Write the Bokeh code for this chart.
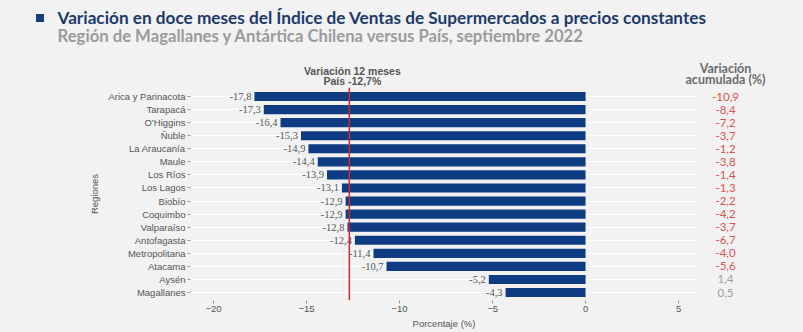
from bokeh.plotting import figure
from bokeh.layouts import column, row
from bokeh.models import ColumnDataSource, LabelSet, Span, Range1d, FixedTicker
from bokeh.core.properties import value
from bokeh.embed import file_html
from bokeh.resources import INLINE

# ---------------- data ----------------
regions = ["Arica y Parinacota", "Tarapacá", "O'Higgins", "Ñuble", "La Araucanía",
           "Maule", "Los Ríos", "Los Lagos", "Biobío", "Coquimbo", "Valparaíso",
           "Antofagasta", "Metropolitana", "Atacama", "Aysén", "Magallanes"]
var12 = [-17.8, -17.3, -16.4, -15.3, -14.9, -14.4, -13.9, -13.1, -12.9, -12.9,
         -12.8, -12.4, -11.4, -10.7, -5.2, -4.3]
acum = [-10.9, -8.4, -7.2, -3.7, -1.2, -3.8, -1.4, -1.3, -2.2, -4.2, -3.7,
        -6.7, -4.0, -5.6, 1.4, 0.5]
pais = -12.7
x_ticks = [-20, -15, -10, -5, 0, 5]

title = "Variación en doce meses del Índice de Ventas de Supermercados a precios constantes"
subtitle = "Región de Magallanes y Antártica Chilena versus País, septiembre 2022"
pais_label = ["Variación 12 meses", "País " + f"{pais:.1f}".replace(".", ",") + "%"]
acum_header = ["Variación", "acumulada (%)"]

# ---------------- layout ----------------
W, H = 803, 332
HEAD_H = 87                      # header strip height
F_L, F_R = 190, 697              # main frame left / right (canvas px)
MAIN_H = H - HEAD_H
BOTTOM = 32
X0, X1 = -21.24, 6.02
y_range = Range1d(15.61, -0.69)
BG = "#f2f2f2"

def fmt(v):
    return f"{v:.1f}".replace(".", ",")

def base(fig):
    fig.background_fill_color = BG
    fig.border_fill_color = BG
    fig.outline_line_color = None
    fig.xaxis.visible = False
    fig.yaxis.visible = False
    fig.grid.visible = False
    return fig

# ---------------- main chart ----------------
p = figure(width=F_R, height=MAIN_H, output_backend="svg", toolbar_location=None,
           x_range=Range1d(X0, X1), y_range=y_range,
           min_border_left=F_L, min_border_right=0,
           min_border_top=0, min_border_bottom=BOTTOM)
p.background_fill_color = BG
p.border_fill_color = BG
p.outline_line_color = None

idx = list(range(len(regions)))
src = ColumnDataSource(dict(
    y=idx, v=var12, zero=[0] * len(idx),
    vlab=[fmt(v) for v in var12],
    alab=[fmt(a) for a in acum],
    acol=["#d9534f" if a < 0 else "#a0a0a0" for a in acum],
))

p.hbar(y="y", left="v", right="zero", height=0.7, source=src,
       fill_color="#0f3b82", line_color=None)

p.add_layout(LabelSet(x="v", y="y", text="vlab", source=src, x_offset=-3,
                      text_align="right", text_baseline="middle",
                      text_font_size="10.5px", text_color="#555555",
                      text_font="Liberation Sans"))

p.add_layout(Span(location=pais, dimension="height", line_color="#cc2b2b",
                  line_width=1.5))

p.xaxis.ticker = FixedTicker(ticks=x_ticks)
p.xaxis.axis_label = "Porcentaje (%)"
p.yaxis.ticker = FixedTicker(ticks=idx)
p.yaxis.major_label_overrides = {i: r for i, r in enumerate(regions)}
p.yaxis.axis_label = "Regiones"
for ax in (p.xaxis, p.yaxis):
    ax.axis_line_color = None
    ax.major_tick_in = 0
    ax.major_tick_out = 3
    ax.major_tick_line_color = "#999999"
    ax.minor_tick_line_color = None
    ax.major_label_text_font = "Liberation Sans"
    ax.major_label_text_font_size = "9.5px"
    ax.major_label_text_color = "#555555"
    ax.axis_label_text_font = "Liberation Sans"
    ax.axis_label_text_font_size = "9.5px"
    ax.axis_label_text_font_style = "normal"
    ax.axis_label_text_color = "#555555"
    ax.major_label_standoff = 2
    ax.axis_label_standoff = 3
p.yaxis.axis_label_standoff = 5
p.xgrid.grid_line_color = None
p.ygrid.grid_line_color = "#ffffff"
p.ygrid.grid_line_width = 1

# ---------------- right column (accumulated variation) ----------------
RW = W - F_R
r = base(figure(width=RW, height=MAIN_H, output_backend="svg", toolbar_location=None,
                x_range=Range1d(0, RW), y_range=y_range,
                min_border_left=0, min_border_right=0,
                min_border_top=0, min_border_bottom=BOTTOM))
COL_X = 725 - F_R
r.text(x=value(COL_X), y="y", text="alab", source=src,
       text_color="acol", text_align="center", text_baseline="middle",
       text_font=value("Lato"), text_font_size="11.5px")

# ---------------- header ----------------
h = base(figure(width=W, height=HEAD_H, output_backend="svg", toolbar_location=None,
                x_range=Range1d(0, W), y_range=Range1d(HEAD_H, 0),
                min_border_left=0, min_border_right=0,
                min_border_top=0, min_border_bottom=0))
h.scatter(x=[39.5], y=[17.5], marker="square", size=8, fill_color="#163d7d",
          line_color=None)
h.text(x=[57], y=[17], text=[title], text_font=value("Lato"),
       text_font_style="bold", text_font_size="17.2px", text_color="#1b3a6b",
       text_baseline="middle")
h.text(x=[57], y=[35], text=[subtitle], text_font=value("Lato"),
       text_font_style="bold", text_font_size="16.7px", text_color="#9b9b9b",
       text_baseline="middle")
pais_px = F_L + (pais - X0) * (F_R - F_L) / (X1 - X0) + 3
h.text(x=[pais_px] * 2, y=[70, 80], text=pais_label,
       text_font=value("Liberation Sans"), text_font_style="bold",
       text_font_size="10.5px", text_color="#555555",
       text_align="center", text_baseline="middle")
h.text(x=[725] * 2, y=[68, 79], text=acum_header,
       text_font=value("Lato"), text_font_style="bold",
       text_font_size="12.5px", text_color="#6b6b6b",
       text_align="center", text_baseline="middle")

layout = column(h, row(p, r, spacing=0), spacing=0)
layout.styles = {"background-color": BG}
open("out.html", "w").write(file_html(layout, INLINE))
